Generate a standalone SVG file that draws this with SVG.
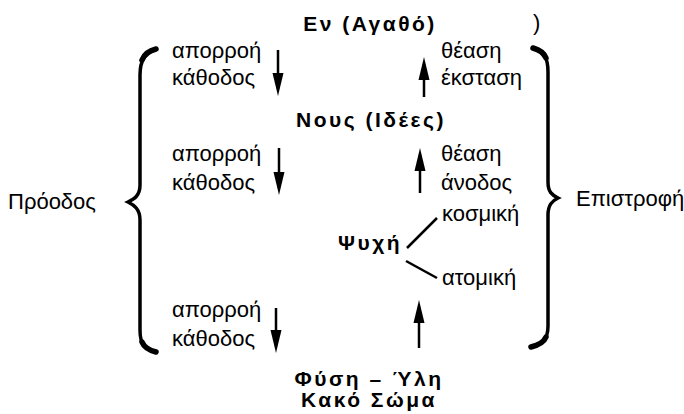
<svg xmlns="http://www.w3.org/2000/svg" width="684" height="414" viewBox="0 0 684 414">
<defs>
<style>
.t{font-family:"Liberation Sans",Arial,sans-serif;font-size:22px;fill:#000}
.b{font-family:"Liberation Sans",Arial,sans-serif;font-size:21px;font-weight:bold;letter-spacing:2.5px;fill:#000;text-anchor:middle}
.ln{stroke:#000;stroke-width:2.5;fill:none}
.sh{stroke:#000;stroke-width:2.5;fill:none}
.br{stroke:#000;stroke-width:3.5;fill:none;stroke-linecap:round}
.be{stroke:#000;stroke-width:5.5;fill:none;stroke-linecap:round}
</style>
</defs>
<rect width="684" height="414" fill="#fff"/>
<g id="en"><text class="b" x="370" y="31">Εν (Αγαθό)</text></g>
<g id="paren"><text class="t" x="533" y="30">)</text></g>
<g id="nous"><text class="b" x="371" y="127">Νους (Ιδέες)</text></g>
<g id="psyche"><text class="b" x="370" y="250">Ψυχή</text></g>
<g id="physi"><text class="b" x="369" y="386">Φύση – Ύλη</text><text class="b" x="369" y="407">Κακό Σώμα</text></g>
<g id="proodos"><text class="t" x="8" y="209">Πρόοδος</text></g>
<g id="epistrofi"><text class="t" x="576" y="206">Επιστροφή</text></g>
<g id="left1"><text class="t" x="172" y="58">απορροή</text><text class="t" x="172" y="85">κάθοδος</text></g>
<g id="left2"><text class="t" x="172" y="161">απορροή</text><text class="t" x="172" y="190">κάθοδος</text></g>
<g id="left3"><text class="t" x="172" y="317">απορροή</text><text class="t" x="172" y="346">κάθοδος</text></g>
<g id="right1"><text class="t" x="441" y="58">θέαση</text><text class="t" x="441" y="85">έκσταση</text></g>
<g id="right2"><text class="t" x="441" y="161">θέαση</text><text class="t" x="441" y="190">άνοδος</text></g>
<g id="kosmiki"><text class="t" x="442" y="221">κοσμική</text></g>
<g id="atomiki"><text class="t" x="442" y="285">ατομική</text></g>
<g id="braces">
<path class="br" d="M156,49 C145,52 140,60 140,75 L140,185 C140,196 134,199 128,202 C134,205 140,209 140,220 L140,330 C140,345 145,349 156,352"/>
<path class="be" d="M156,49 C148,51 144,55 142,60"/>
<path class="be" d="M142,342 C144,347 148,350 156,352"/>
<path class="br" d="M533,48 C544,51 548,58 548,72 L548,182 C548,192 552,195 558,198 C552,201 548,205 548,215 L548,326 C548,340 542,344 531,347"/>
<path class="be" d="M533,48 C540,50 544,53 546,58"/>
<path class="be" d="M546,337 C544,342 539,345 531,347"/>
</g>
<g id="connectors">
<path class="sh" d="M278,50 L278,80"/>
<path d="M272.5,73 L283.5,73 L278,96 Z"/>
<path class="sh" d="M424,97 L424,70"/>
<path d="M418.5,80 L429.5,80 L424,57 Z"/>
<path class="sh" d="M279,148 L279,180"/>
<path d="M273.5,172 L284.5,172 L279,195 Z"/>
<path class="sh" d="M420,193 L420,160"/>
<path d="M414.5,171 L425.5,171 L420,148 Z"/>
<path class="sh" d="M276,308 L276,340"/>
<path d="M270.5,330 L281.5,330 L276,353 Z"/>
<path class="sh" d="M419,348 L419,312"/>
<path d="M413.5,323 L424.5,323 L419,300 Z"/>
<path class="ln" d="M407,248 L437,218"/>
<path class="ln" d="M406,261 L437,278"/>
</g>
</svg>
